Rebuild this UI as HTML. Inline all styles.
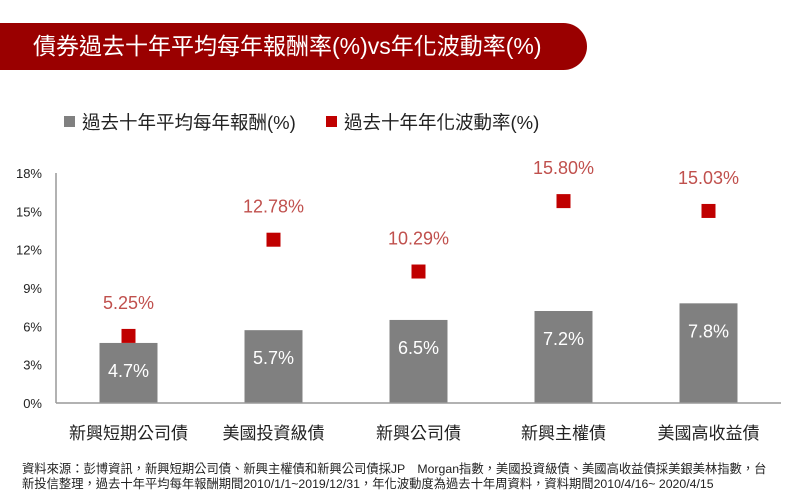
<!DOCTYPE html>
<html><head><meta charset="utf-8">
<style>
body{margin:0;width:800px;height:500px;background:#fff;overflow:hidden;font-family:"Liberation Sans","Noto Sans CJK TC",sans-serif;}
#banner{position:absolute;left:0;top:23px;width:587px;height:47px;background:#9a0000;border-radius:0 24px 24px 0;}
#title{position:absolute;left:33px;top:33px;color:#fff;font-size:23px;line-height:26px;white-space:nowrap;}
.foot{position:absolute;left:22px;font-size:12.3px;color:#222;white-space:nowrap;}
</style></head><body>
<div id="banner"></div>
<div id="title">債券過去十年平均每年報酬率(%)vs年化波動率(%)</div>
<svg id="chart" width="800" height="500" style="position:absolute;left:0;top:0"></svg>
<div class="foot" style="top:459px">資料來源：彭博資訊，新興短期公司債、新興主權債和新興公司債採JP　Morgan指數，美國投資級債、美國高收益債採美銀美林指數，台</div>
<div class="foot" style="top:474px">新投信整理，過去十年平均每年報酬期間2010/1/1~2019/12/31，年化波動度為過去十年周資料，資料期間2010/4/16~ 2020/4/15</div>
<script>
const categories=["新興短期公司債","美國投資級債","新興公司債","新興主權債","美國高收益債"];
const returns=[4.7,5.7,6.5,7.2,7.8];
const volatility=[5.25,12.78,10.29,15.80,15.03];
const ticks=[0,3,6,9,12,15,18];
const svg=document.getElementById('chart');
const NS='http://www.w3.org/2000/svg';
const x0=56,x1=781,y0=403,y1=173,ymax=18;
const bw=(x1-x0)/categories.length;
const yS=v=>y0-(v/ymax)*(y0-y1);
const xC=i=>x0+bw*(i+0.5);
function mk(t,a,txt){const e=document.createElementNS(NS,t);for(const k in a)e.setAttribute(k,a[k]);if(txt!==undefined)e.textContent=txt;svg.appendChild(e);return e;}
// legend
let e=mk('rect',{x:64,y:116,width:11,height:11,fill:'#808080'});


e=mk('text',{x:82,y:129,'font-size':18.5,fill:'#222'},'過去十年平均每年報酬(%)');


e=mk('rect',{x:326,y:116,width:11,height:11,fill:'#c00000'});


e=mk('text',{x:344,y:129,'font-size':18.5,fill:'#222'},'過去十年年化波動率(%)');


// y ticks
ticks.forEach(t=>{
  const el=mk('text',{x:42,y:yS(t)+5,'text-anchor':'end','font-size':13,fill:'#222'},t+'%');
  
  
});
categories.forEach((c,i)=>{
  const cx=xC(i);
  const b=mk('rect',{x:cx-29,y:yS(returns[i]),width:58,height:y0-yS(returns[i]),fill:'#808080'});
  
  
  const bl=mk('text',{x:cx,y:yS(returns[i])+34,'text-anchor':'middle','font-size':18,fill:'#fff'},returns[i].toFixed(1)+'%');
  
  
  const m=mk('rect',{x:cx-7,y:yS(volatility[i])-7,width:14,height:14,fill:'#c00000'});
  
  
  const ml=mk('text',{x:cx,y:yS(volatility[i])-27,'text-anchor':'middle','font-size':18,fill:'#c0504d'},volatility[i].toFixed(2)+'%');
  
  
  const cl=mk('text',{x:cx,y:439,'text-anchor':'middle','font-size':17,fill:'#222'},c);
  
  
});
e=mk('line',{x1:x0,y1:y1,x2:x0,y2:y0,stroke:'#999','stroke-width':1.5});


e=mk('line',{x1:x0,y1:y0,x2:x1,y2:y0,stroke:'#999','stroke-width':1.5});


</script>
</body></html>
